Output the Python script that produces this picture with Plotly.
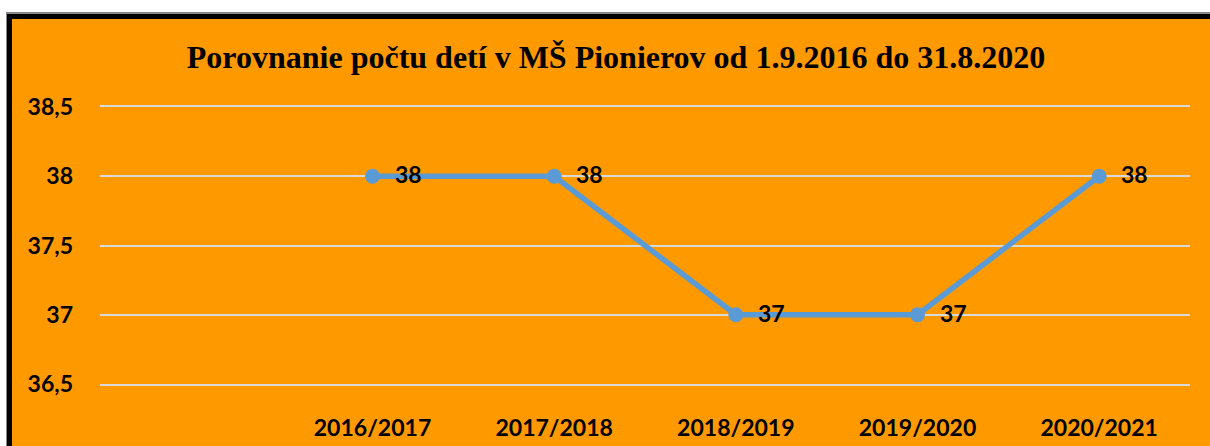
import plotly.graph_objects as go

# Data
categories = ["2016/2017", "2017/2018", "2018/2019", "2019/2020", "2020/2021"]
values = [38, 38, 37, 37, 38]
axis_categories = [" "] + categories  # first slot on the axis is empty
y_ticks = [36.5, 37, 37.5, 38, 38.5]
y_ticktext = ["36,5", "37", "37,5", "38", "38,5"]
title_text = "Porovnanie počtu detí v MŠ Pionierov od 1.9.2016 do 31.8.2020"

ORANGE = "#FF9900"
BLUE = "#5B9BD5"
GRID = "#D9D9D9"
W, H = 1210, 446
L, T = 100, 107
PW, PH = 1090, 277
R = W - L - PW
B = H - T - PH

def px_x(p):
    return (p - L) / PW

def px_y(p):
    return (T + PH - p) / PH

fig = go.Figure()
fig.add_trace(go.Scatter(
    x=categories, y=values, mode="lines+markers",
    line=dict(color=BLUE, width=5.5),
    marker=dict(color=BLUE, size=15),
    hoverinfo="skip", showlegend=False,
))

label_font = dict(family="Lato, 'Liberation Sans', sans-serif", size=23, color="black")

for c, v in zip(categories, values):
    fig.add_annotation(x=c, y=v, text=f"<b>{v}</b>", showarrow=False,
                       xanchor="left", yanchor="middle", xshift=20, yshift=2,
                       font=label_font)

# background panel with thick black border (top and left visible)
fig.add_shape(type="rect", xref="paper", yref="paper",
              x0=px_x(9.5), x1=px_x(1300), y0=px_y(15.5), y1=px_y(520),
              line=dict(color="#888888", width=7), fillcolor=ORANGE, layer="below")
fig.add_shape(type="rect", xref="paper", yref="paper",
              x0=px_x(9.5), x1=px_x(1300), y0=px_y(16.5), y1=px_y(520),
              line=dict(color="black", width=5), fillcolor=ORANGE, layer="below")

fig.update_layout(
    width=W, height=H,
    margin=dict(l=L, r=R, t=T, b=B, autoexpand=False),
    paper_bgcolor="white",
    plot_bgcolor="rgba(0,0,0,0)",
    title=dict(text=f"<b>{title_text}</b>", x=616 / W, xanchor="center",
               y=1 - 57 / H, yref="container", yanchor="middle",
               font=dict(family="'Liberation Serif', 'Times New Roman', serif", size=32, color="black")),
    xaxis=dict(type="category", categoryorder="array", categoryarray=axis_categories,
               range=[-0.5, len(axis_categories) - 0.5],
               tickvals=categories, ticktext=[f"<b>{c}</b>" for c in categories],
               showgrid=False, showline=True, linecolor=GRID, linewidth=2, mirror=True,
               ticks="", ticklabelstandoff=22, tickfont=label_font, zeroline=False,
               automargin=False),
    yaxis=dict(range=[36.5, 38.5], tickvals=y_ticks,
               ticktext=[f"<b>{t}</b>" for t in y_ticktext],
               showgrid=True, gridcolor=GRID, gridwidth=2, zeroline=False,
               ticks="", ticklabelstandoff=26, tickfont=label_font, showline=False,
               automargin=False),
)

fig.write_html(
    "out.html",
    config={"displayModeBar": False, "responsive": False},
    post_script="document.body.style.margin='0';document.body.style.overflow='hidden';"
                "document.documentElement.style.overflow='hidden';",
)
